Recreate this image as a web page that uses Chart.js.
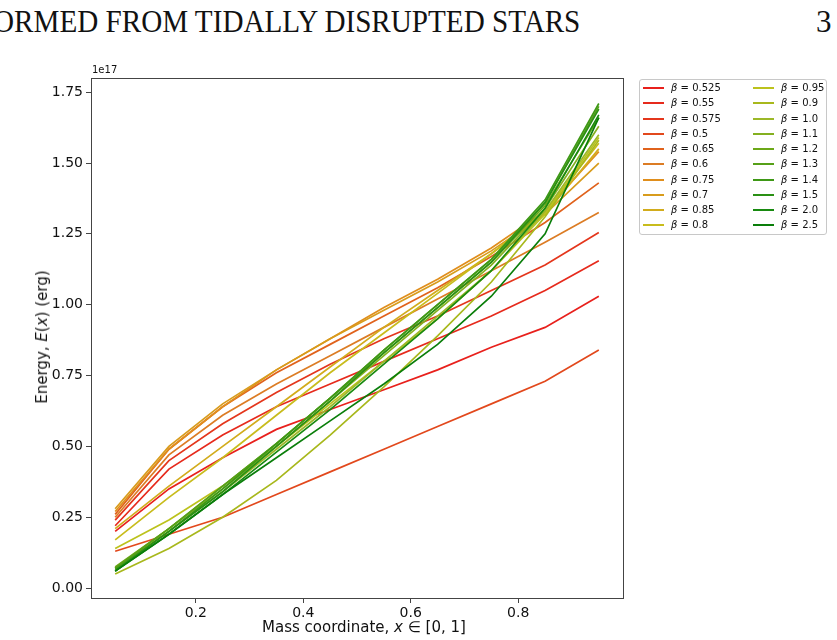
<!DOCTYPE html>
<html>
<head>
<meta charset="utf-8">
<script src="https://cdn.jsdelivr.net/npm/chart.js@4.4.1/dist/chart.umd.min.js"></script>
<style>
  body { margin: 0; background: #fff; width: 837px; height: 640px; overflow: hidden; position: relative; font-family: "DejaVu Sans", sans-serif; }
  #wrap { position: absolute; left: 0; top: 0; width: 837px; height: 640px; }
  .header { position: absolute; top: 4px; font-family: "Liberation Serif", "DejaVu Serif", serif; font-size: 31px; color: #111; white-space: nowrap; transform-origin: left top; }
  .axis-title { position: absolute; font-size: 15px; color: #111; white-space: nowrap; }
  #legend { position: absolute; left: 639px; top: 79px; width: 188px; height: 156px; border: 1px solid #c8c8c8; border-radius: 3px; box-sizing: border-box; font-size: 10px; color: #111; }
  .item { position: absolute; height: 14px; line-height: 14px; white-space: nowrap; }
  .swatch { position: absolute; top: 6px; left: 0; width: 21px; height: 2px; }
  .label { position: absolute; left: 28px; top: 0; }
</style>
</head>
<body>
<div class="header" style="left:-7px; transform: scaleX(0.94);">ORMED FROM TIDALLY DISRUPTED STARS</div>
<div class="header" style="left:816px;">3</div>
<div id="wrap"><canvas id="energyChart" width="837" height="640"></canvas></div>
<div class="axis-title" style="left:92px; top:64px; font-size:10px;">1e17</div>
<div class="axis-title" style="left:262px; top:618px;">Mass coordinate, <i>x</i> ∈ [0, 1]</div>
<div class="axis-title" style="left:42px; top:337px; transform: translate(-50%, -50%) rotate(-90deg);">Energy, <i>E</i>(<i>x</i>) (erg)</div>
<div id="legend"></div>
<script>
// mass coordinate bins
const massCoord = [0.05, 0.15, 0.25, 0.35, 0.45, 0.55, 0.65, 0.75, 0.85, 0.95];
const yTicks = [0, 0.25, 0.5, 0.75, 1.0, 1.25, 1.5, 1.75];
const xTicks = [0.2, 0.4, 0.6, 0.8];

// impact parameters, in legend order
const betas = ['0.525', '0.55', '0.575', '0.5', '0.65', '0.6', '0.75', '0.7', '0.85', '0.8',
               '0.95', '0.9', '1.0', '1.1', '1.2', '1.3', '1.4', '1.5', '2.0', '2.5'];

// energy (units of 1e17 erg), one array per beta
const e0525 = [0.20, 0.35, 0.46, 0.56, 0.63, 0.70, 0.77, 0.85, 0.92, 1.03];
const e055  = [0.22, 0.42, 0.54, 0.64, 0.72, 0.80, 0.88, 0.96, 1.05, 1.155];
const e0575 = [0.24, 0.45, 0.58, 0.69, 0.79, 0.88, 0.96, 1.05, 1.14, 1.255];
const e05   = [0.13, 0.19, 0.25, 0.33, 0.41, 0.49, 0.57, 0.65, 0.73, 0.84];
const e065  = [0.26, 0.49, 0.64, 0.76, 0.86, 0.96, 1.06, 1.17, 1.29, 1.43];
const e06   = [0.25, 0.47, 0.61, 0.72, 0.82, 0.92, 1.02, 1.12, 1.22, 1.325];
const e075  = [0.27, 0.49, 0.64, 0.77, 0.88, 0.99, 1.09, 1.20, 1.33, 1.54];
const e07   = [0.28, 0.50, 0.65, 0.77, 0.88, 0.98, 1.08, 1.19, 1.32, 1.50];
const e085  = [0.21, 0.36, 0.50, 0.64, 0.78, 0.92, 1.05, 1.18, 1.32, 1.55];
const e08   = [0.17, 0.32, 0.46, 0.61, 0.76, 0.90, 1.04, 1.18, 1.33, 1.57];
const e095  = [0.14, 0.24, 0.36, 0.50, 0.65, 0.80, 0.95, 1.12, 1.32, 1.59];
const e09   = [0.05, 0.14, 0.25, 0.38, 0.54, 0.71, 0.89, 1.08, 1.31, 1.58];
const e10   = [0.07, 0.20, 0.34, 0.49, 0.64, 0.80, 0.96, 1.12, 1.33, 1.60];
const e11   = [0.07, 0.21, 0.35, 0.50, 0.66, 0.82, 0.98, 1.14, 1.34, 1.63];
const e12   = [0.075, 0.21, 0.36, 0.51, 0.67, 0.83, 0.99, 1.15, 1.35, 1.66];
const e13   = [0.07, 0.21, 0.36, 0.51, 0.67, 0.84, 1.00, 1.16, 1.36, 1.70];
const e14   = [0.065, 0.20, 0.35, 0.51, 0.67, 0.84, 1.00, 1.16, 1.37, 1.71];
const e15   = [0.06, 0.20, 0.34, 0.50, 0.66, 0.83, 0.99, 1.15, 1.36, 1.69];
const e20   = [0.06, 0.19, 0.33, 0.48, 0.63, 0.79, 0.95, 1.12, 1.34, 1.67];
const e25   = [0.06, 0.19, 0.33, 0.46, 0.59, 0.72, 0.86, 1.03, 1.25, 1.66];

const energies = [e0525, e055, e0575, e05, e065, e06, e075, e07, e085, e08,
                  e095, e09, e10, e11, e12, e13, e14, e15, e20, e25];

const colors = ['#e8201c', '#e62a1c', '#e4361c', '#e2481c', '#e0621c', '#dc7c24', '#e08e1c', '#d89c1c', '#d2ac1c', '#c8bc1c',
                '#bcc21c', '#a8b81c', '#9cb828', '#84b020', '#6ca818', '#56a018', '#3e9816', '#2a9014', '#188a10', '#0a7e0a'];

document.addEventListener('DOMContentLoaded', () => {
    const n = betas.length;
    const datasets = betas.map((b, i) => ({
        label: 'β = ' + b,
        data: massCoord.map((x, j) => ({ x: x, y: energies[i][j] })),
        borderColor: colors[i],
        backgroundColor: colors[i],
        borderWidth: 1.7,
        pointRadius: 0,
        tension: 0,
        order: n - i // later betas on top, like matplotlib
    }));

    // full frame around the plot area
    const frame = {
        id: 'frame',
        afterDraw(chart) {
            const a = chart.chartArea;
            const ctx = chart.ctx;
            ctx.save();
            ctx.strokeStyle = '#444';
            ctx.lineWidth = 1;
            ctx.strokeRect(a.left + 0.5, a.top + 0.5, a.right - a.left, a.bottom - a.top);
            ctx.restore();
        }
    };

    const ctx = document.getElementById('energyChart').getContext('2d');
    new Chart(ctx, {
        type: 'line',
        data: { datasets: datasets },
        options: {
            responsive: false,
            animation: false,
            layout: { padding: { left: 0, top: 78, right: 214, bottom: 0 } },
            plugins: { legend: { display: false }, tooltip: { enabled: false } },
            scales: {
                x: {
                    type: 'linear',
                    min: 0.005,
                    max: 0.995,
                    afterBuildTicks: s => { s.ticks = xTicks.map(v => ({ value: v })); },
                    afterFit: s => { s.height = 42; },
                    grid: { drawOnChartArea: false, drawTicks: true, tickLength: 5, color: '#444' },
                    border: { color: '#444' },
                    ticks: { color: '#111', font: { family: 'DejaVu Sans', size: 14 }, padding: 2, maxRotation: 0,
                             callback: v => v.toFixed(1) }
                },
                y: {
                    type: 'linear',
                    min: -0.035,
                    max: 1.80,
                    afterBuildTicks: s => { s.ticks = yTicks.map(v => ({ value: v })); },
                    afterFit: s => { s.width = 91; },
                    grid: { drawOnChartArea: false, drawTicks: true, tickLength: 5, color: '#444' },
                    border: { color: '#444' },
                    ticks: { color: '#111', font: { family: 'DejaVu Sans', size: 14 }, padding: 3,
                             callback: v => v.toFixed(2) }
                }
            }
        },
        plugins: [frame]
    });

    // two-column legend box
    const legend = document.getElementById('legend');
    betas.forEach((b, i) => {
        const col = Math.floor(i / 10);
        const row = i % 10;
        const item = document.createElement('div');
        item.className = 'item';
        item.style.left = (3 + col * 110) + 'px';
        item.style.top = (1 + row * 15.25) + 'px';
        item.innerHTML = `<div class="swatch" style="background:${colors[i]}"></div>
                          <div class="label"><i>β</i> = ${b}</div>`;
        legend.appendChild(item);
    });
});
</script>
</body>
</html>
